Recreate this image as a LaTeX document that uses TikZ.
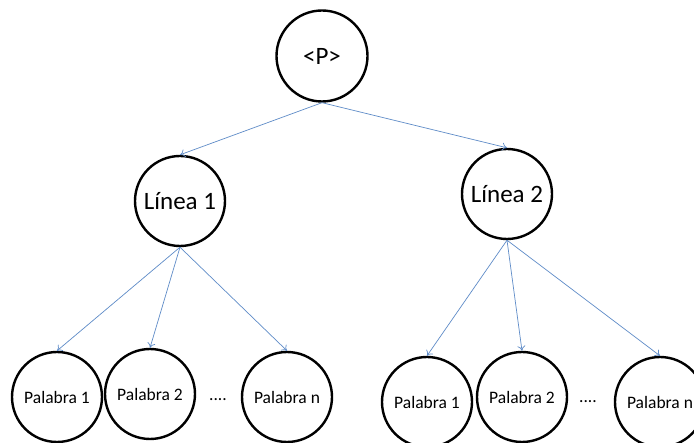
\documentclass[tikz,border=0pt]{standalone}
\usepackage{fontspec}
\setmainfont{Carlito}
\usetikzlibrary{arrows.meta}
\definecolor{linkblue}{RGB}{95,140,200}
\begin{document}
\begin{tikzpicture}[x=1pt,y=-1pt,
  bubble/.style={circle, draw=black, line width=2.4pt, minimum size=90pt, inner sep=0pt},
  bigtext/.style={font=\fontsize{25}{25}\selectfont},
  smalltext/.style={font=\fontsize{17.5}{18}\selectfont},
  link/.style={draw=linkblue, line width=0.7pt, -{To[length=5pt,width=8pt]}},
]
\clip (0,0) rectangle (694,443);
\fill[white] (0,0) rectangle (694,443);

% root and line nodes
\node[bubble, bigtext, minimum size=91pt] (P) at (322,56) {<P>};
\node[bubble, bigtext] (L1) at (180,201) {Línea 1};
\node[bubble, bigtext] (L2) at (507,194) {Línea 2};

% words of the first line
\node[bubble, smalltext] (A1) at (57,397) {Palabra 1};
\node[bubble, smalltext] (A2) at (150,394) {Palabra 2};
\node[smalltext] (Ad) at (218,400) {....};
\node[bubble, smalltext] (An) at (287,397) {Palabra n};

% words of the second line
\node[bubble, smalltext] (B1) at (427,402) {Palabra 1};
\node[bubble, smalltext] (B2) at (522,397) {Palabra 2};
\node[smalltext] (Bd) at (588,402) {....};
\node[bubble, smalltext] (Bn) at (660,402) {Palabra n};

% connectors
\path[link] (P.south) -- (L1.north);
\path[link] (P.south) -- (L2.north);
\path[link] (L1.south) -- (A1.north);
\path[link] (L1.south) -- (A2.north);
\path[link] (L1.south) -- (An.north);
\path[link] (L2.south) -- (B1.north);
\path[link] (L2.south) -- (B2.north);
\path[link] (L2.south) -- (Bn.north);
\end{tikzpicture}
\end{document}
